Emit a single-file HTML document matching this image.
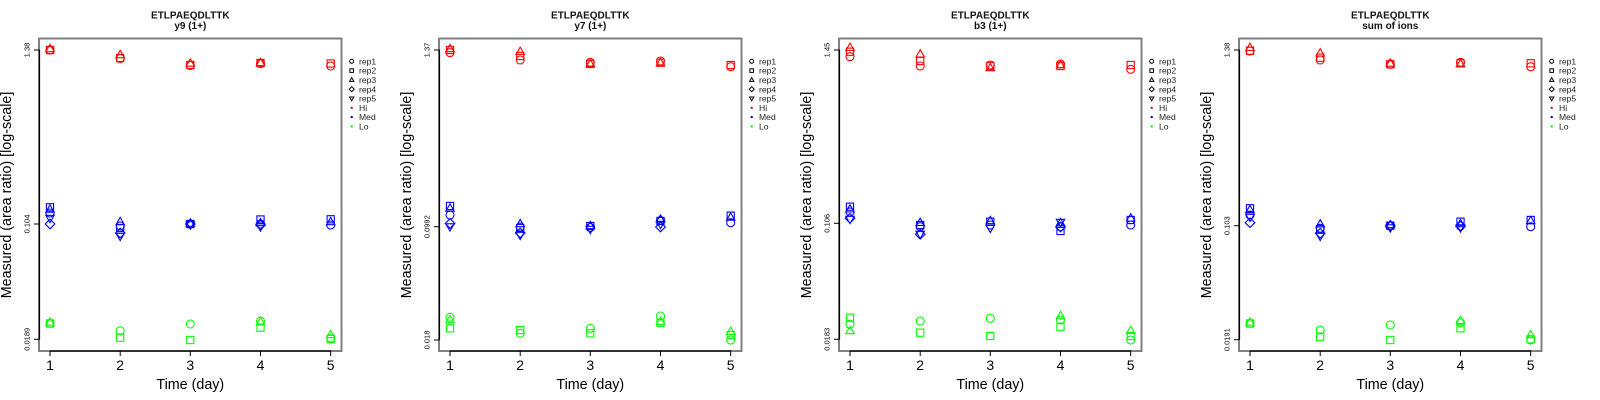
<!DOCTYPE html>
<html><head><meta charset="utf-8"><style>
html,body{margin:0;padding:0;background:#fff;}
svg{display:block;}
text{font-family:"Liberation Sans",sans-serif;}
</style></head><body>
<svg width="1600" height="400" viewBox="0 0 1600 400" xmlns="http://www.w3.org/2000/svg">
<defs>
<circle id="c" cx="0" cy="0" r="4"/>
<rect id="s" x="-3.6" y="-3.6" width="7.2" height="7.2"/>
<polygon id="t" points="0,-4.6 4.2,2.7 -4.2,2.7"/>
<polygon id="d" points="0,-4.8 4.8,0 0,4.8 -4.8,0"/>
<polygon id="v" points="0,4.6 4.2,-2.7 -4.2,-2.7"/>
<circle id="lc" cx="0" cy="0" r="2"/>
<rect id="ls" x="-1.8" y="-1.8" width="3.6" height="3.6"/>
<polygon id="lt" points="0,-2.3 2.2,1.5 -2.2,1.5"/>
<polygon id="ld" points="0,-2.5 2.5,0 0,2.5 -2.5,0"/>
<polygon id="lv" points="0,2.3 2.2,-1.5 -2.2,-1.5"/>
<g id="frame">
<rect x="39" y="38.5" width="302.5" height="312.5" fill="none" stroke="#808080" stroke-width="2"/>
<line x1="39.5" y1="50" x2="39.5" y2="339.5" stroke="#000" stroke-width="1.2"/>
<line x1="50" y1="351" x2="331" y2="351" stroke="#000" stroke-width="1.2"/>
<g stroke="#000" stroke-width="1">
<line x1="50" y1="351" x2="50" y2="356"/>
<line x1="120.2" y1="351" x2="120.2" y2="356"/>
<line x1="190.3" y1="351" x2="190.3" y2="356"/>
<line x1="260.5" y1="351" x2="260.5" y2="356"/>
<line x1="330.7" y1="351" x2="330.7" y2="356"/>
</g>
<g font-size="14" text-anchor="middle" fill="#000">
<text x="50" y="370">1</text>
<text x="120.2" y="370">2</text>
<text x="190.3" y="370">3</text>
<text x="260.5" y="370">4</text>
<text x="330.7" y="370">5</text>
</g>
<text x="190.3" y="389" font-size="14.3" text-anchor="middle" fill="#000">Time (day)</text>
<text x="11" y="195" font-size="14.3" text-anchor="middle" fill="#000" transform="rotate(-90 11 195)">Measured (area ratio) [log-scale]</text>
<g fill="none" stroke="#000" stroke-width="1">
<use href="#lc" x="351.7" y="61.3"/>
<use href="#ls" x="351.7" y="70.6"/>
<use href="#lt" x="351.7" y="79.9"/>
<use href="#ld" x="351.7" y="89.2"/>
<use href="#lv" x="351.7" y="98.5"/>
</g>
<circle cx="351.7" cy="107.8" r="1.2" fill="#f00"/>
<circle cx="351.7" cy="117.1" r="1.2" fill="#00f"/>
<circle cx="351.7" cy="126.4" r="1.2" fill="#0f0"/>
<g font-size="8.6" fill="#222">
<text x="359" y="64.4">rep1</text>
<text x="359" y="73.7">rep2</text>
<text x="359" y="83">rep3</text>
<text x="359" y="92.3">rep4</text>
<text x="359" y="101.6">rep5</text>
<text x="359" y="110.9">Hi</text>
<text x="359" y="120.2">Med</text>
<text x="359" y="129.5">Lo</text>
</g>
</g>
</defs>

<!-- Panel 1 -->
<g transform="translate(0,0)">
<use href="#frame"/>
<text x="190.3" y="18.3" font-size="10" font-weight="bold" text-anchor="middle" fill="#111">ETLPAEQDLTTK</text>
<text x="190.3" y="28.8" font-size="10" font-weight="bold" text-anchor="middle" fill="#111">y9 (1+)</text>
<g stroke="#000" stroke-width="1">
<line x1="34" y1="50" x2="39.5" y2="50"/><line x1="34" y1="224" x2="39.5" y2="224"/><line x1="34" y1="339.3" x2="39.5" y2="339.3"/>
</g>
<g font-size="7.5" text-anchor="middle" fill="#000">
<text x="29.5" y="50" transform="rotate(-90 29.5 50)">1.38</text>
<text x="29.5" y="224" transform="rotate(-90 29.5 224)">0.104</text>
<text x="29.5" y="339.3" transform="rotate(-90 29.5 339.3)">0.0189</text>
</g>
<g fill="none" stroke="#f00" stroke-width="1.1">
<use href="#c" x="50" y="50"/><use href="#s" x="50" y="50"/><use href="#t" x="50" y="49"/>
<use href="#c" x="120.2" y="58.5"/><use href="#s" x="120.2" y="58"/><use href="#t" x="120.2" y="55"/>
<use href="#c" x="190.3" y="65.5"/><use href="#s" x="190.3" y="65"/><use href="#t" x="190.3" y="63.5"/>
<use href="#c" x="260.5" y="63.5"/><use href="#s" x="260.5" y="63"/><use href="#t" x="260.5" y="63"/>
<use href="#c" x="330.7" y="66"/><use href="#s" x="330.7" y="63.5"/>
</g>
<g fill="none" stroke="#00f" stroke-width="1.1">
<use href="#s" x="50" y="207.3"/><use href="#t" x="50" y="209.5"/><use href="#c" x="50" y="213"/><use href="#v" x="50" y="218"/><use href="#d" x="50" y="224"/>
<use href="#t" x="120.2" y="222"/><use href="#c" x="120.2" y="226"/><use href="#s" x="120.2" y="228"/><use href="#d" x="120.2" y="233"/><use href="#v" x="120.2" y="236"/>
<use href="#c" x="190.3" y="224"/><use href="#s" x="190.3" y="224"/><use href="#t" x="190.3" y="223.5"/><use href="#d" x="190.3" y="224"/><use href="#v" x="190.3" y="224.5"/>
<use href="#s" x="260.5" y="219.5"/><use href="#c" x="260.5" y="224"/><use href="#t" x="260.5" y="223"/><use href="#d" x="260.5" y="225"/><use href="#v" x="260.5" y="226.5"/>
<use href="#s" x="330.7" y="219.3"/><use href="#t" x="330.7" y="222"/><use href="#c" x="330.7" y="225"/>
</g>
<g fill="none" stroke="#0f0" stroke-width="1.1">
<use href="#c" x="50" y="323.3"/><use href="#s" x="50" y="323.5"/><use href="#t" x="50" y="322.5"/>
<use href="#c" x="120.2" y="330.7"/><use href="#s" x="120.2" y="337.7"/>
<use href="#c" x="190.3" y="324"/><use href="#s" x="190.3" y="340"/>
<use href="#c" x="260.5" y="321"/><use href="#t" x="260.5" y="322"/><use href="#s" x="260.5" y="327.7"/>
<use href="#t" x="330.7" y="335"/><use href="#s" x="330.7" y="339"/><use href="#c" x="330.7" y="338"/>
</g>
</g>

<!-- Panel 2 -->
<g transform="translate(400,0)">
<use href="#frame"/>
<text x="190.3" y="18.3" font-size="10" font-weight="bold" text-anchor="middle" fill="#111">ETLPAEQDLTTK</text>
<text x="190.3" y="28.8" font-size="10" font-weight="bold" text-anchor="middle" fill="#111">y7 (1+)</text>
<g stroke="#000" stroke-width="1">
<line x1="34" y1="50" x2="39.5" y2="50"/><line x1="34" y1="226.7" x2="39.5" y2="226.7"/><line x1="34" y1="340" x2="39.5" y2="340"/>
</g>
<g font-size="7.5" text-anchor="middle" fill="#000">
<text x="29.5" y="50" transform="rotate(-90 29.5 50)">1.37</text>
<text x="29.5" y="226.7" transform="rotate(-90 29.5 226.7)">0.0992</text>
<text x="29.5" y="340" transform="rotate(-90 29.5 340)">0.018</text>
</g>
<g fill="none" stroke="#f00" stroke-width="1.1">
<use href="#s" x="50" y="50"/><use href="#t" x="50" y="49"/><use href="#c" x="50" y="52.7"/>
<use href="#t" x="120.2" y="51.7"/><use href="#s" x="120.2" y="56"/><use href="#c" x="120.2" y="60"/>
<use href="#c" x="190.3" y="62.3"/><use href="#s" x="190.3" y="64"/><use href="#t" x="190.3" y="64"/>
<use href="#c" x="260.5" y="61"/><use href="#s" x="260.5" y="62.7"/><use href="#t" x="260.5" y="63"/>
<use href="#s" x="330.7" y="65"/><use href="#c" x="330.7" y="66.7"/>
</g>
<g fill="none" stroke="#00f" stroke-width="1.1">
<use href="#s" x="50" y="206"/><use href="#t" x="50" y="208.5"/><use href="#c" x="50" y="215"/><use href="#d" x="50" y="223.5"/><use href="#v" x="50" y="226.5"/>
<use href="#t" x="120.2" y="224"/><use href="#c" x="120.2" y="227"/><use href="#s" x="120.2" y="228"/><use href="#d" x="120.2" y="233"/><use href="#v" x="120.2" y="235"/>
<use href="#s" x="190.3" y="226"/><use href="#c" x="190.3" y="227.5"/><use href="#t" x="190.3" y="226"/><use href="#v" x="190.3" y="229"/>
<use href="#t" x="260.5" y="219.5"/><use href="#c" x="260.5" y="220.5"/><use href="#s" x="260.5" y="221"/><use href="#d" x="260.5" y="227"/><use href="#v" x="260.5" y="224"/>
<use href="#s" x="330.7" y="215.7"/><use href="#t" x="330.7" y="217.5"/><use href="#c" x="330.7" y="222.7"/>
</g>
<g fill="none" stroke="#0f0" stroke-width="1.1">
<use href="#c" x="50" y="317.3"/><use href="#t" x="50" y="320"/><use href="#s" x="50" y="328.3"/>
<use href="#s" x="120.2" y="330"/><use href="#c" x="120.2" y="333.3"/>
<use href="#c" x="190.3" y="328.3"/><use href="#s" x="190.3" y="333.3"/>
<use href="#c" x="260.5" y="316"/><use href="#t" x="260.5" y="321.7"/><use href="#s" x="260.5" y="322.7"/>
<use href="#t" x="330.7" y="331.7"/><use href="#s" x="330.7" y="335"/><use href="#c" x="330.7" y="340"/>
</g>
</g>

<!-- Panel 3 -->
<g transform="translate(800,0)">
<use href="#frame"/>
<text x="190.3" y="18.3" font-size="10" font-weight="bold" text-anchor="middle" fill="#111">ETLPAEQDLTTK</text>
<text x="190.3" y="28.8" font-size="10" font-weight="bold" text-anchor="middle" fill="#111">b3 (1+)</text>
<g stroke="#000" stroke-width="1">
<line x1="34" y1="50" x2="39.5" y2="50"/><line x1="34" y1="223.3" x2="39.5" y2="223.3"/><line x1="34" y1="339.3" x2="39.5" y2="339.3"/>
</g>
<g font-size="7.5" text-anchor="middle" fill="#000">
<text x="29.5" y="50" transform="rotate(-90 29.5 50)">1.45</text>
<text x="29.5" y="223.3" transform="rotate(-90 29.5 223.3)">0.106</text>
<text x="29.5" y="339.3" transform="rotate(-90 29.5 339.3)">0.0183</text>
</g>
<g fill="none" stroke="#f00" stroke-width="1.1">
<use href="#t" x="50" y="47.7"/><use href="#s" x="50" y="51.7"/><use href="#c" x="50" y="56.7"/>
<use href="#t" x="120.2" y="54.3"/><use href="#s" x="120.2" y="61"/><use href="#c" x="120.2" y="66"/>
<use href="#c" x="190.3" y="65"/><use href="#s" x="190.3" y="66"/><use href="#t" x="190.3" y="68"/>
<use href="#c" x="260.5" y="64"/><use href="#s" x="260.5" y="66"/><use href="#t" x="260.5" y="65"/>
<use href="#s" x="330.7" y="65"/><use href="#c" x="330.7" y="69.3"/>
</g>
<g fill="none" stroke="#00f" stroke-width="1.1">
<use href="#s" x="50" y="206.7"/><use href="#t" x="50" y="209.3"/><use href="#c" x="50" y="212"/><use href="#d" x="50" y="218.3"/><use href="#v" x="50" y="219"/>
<use href="#t" x="120.2" y="222.7"/><use href="#s" x="120.2" y="225"/><use href="#c" x="120.2" y="226.7"/><use href="#d" x="120.2" y="234.3"/><use href="#v" x="120.2" y="234"/>
<use href="#t" x="190.3" y="221"/><use href="#s" x="190.3" y="221.7"/><use href="#c" x="190.3" y="225"/><use href="#v" x="190.3" y="228"/>
<use href="#v" x="260.5" y="222"/><use href="#t" x="260.5" y="223"/><use href="#c" x="260.5" y="226.7"/><use href="#d" x="260.5" y="227"/><use href="#s" x="260.5" y="231"/>
<use href="#t" x="330.7" y="218.3"/><use href="#s" x="330.7" y="220"/><use href="#c" x="330.7" y="225"/>
</g>
<g fill="none" stroke="#0f0" stroke-width="1.1">
<use href="#s" x="50" y="317.7"/><use href="#c" x="50" y="324.3"/><use href="#t" x="50" y="331"/>
<use href="#c" x="120.2" y="321"/><use href="#s" x="120.2" y="332.7"/>
<use href="#c" x="190.3" y="318.3"/><use href="#s" x="190.3" y="336"/>
<use href="#t" x="260.5" y="316"/><use href="#c" x="260.5" y="320"/><use href="#s" x="260.5" y="326.7"/>
<use href="#t" x="330.7" y="330.7"/><use href="#s" x="330.7" y="336"/><use href="#c" x="330.7" y="340"/>
</g>
</g>

<!-- Panel 4 -->
<g transform="translate(1200,0)">
<use href="#frame"/>
<text x="190.3" y="18.3" font-size="10" font-weight="bold" text-anchor="middle" fill="#111">ETLPAEQDLTTK</text>
<text x="190.3" y="28.8" font-size="10" font-weight="bold" text-anchor="middle" fill="#111">sum of ions</text>
<g stroke="#000" stroke-width="1">
<line x1="34" y1="50" x2="39.5" y2="50"/><line x1="34" y1="225.7" x2="39.5" y2="225.7"/><line x1="34" y1="339.7" x2="39.5" y2="339.7"/>
</g>
<g font-size="7.5" text-anchor="middle" fill="#000">
<text x="29.5" y="50" transform="rotate(-90 29.5 50)">1.38</text>
<text x="29.5" y="225.7" transform="rotate(-90 29.5 225.7)">0.103</text>
<text x="29.5" y="339.7" transform="rotate(-90 29.5 339.7)">0.0191</text>
</g>
<g fill="none" stroke="#f00" stroke-width="1.1">
<use href="#t" x="50" y="47.7"/><use href="#s" x="50" y="50.7"/><use href="#c" x="50" y="51"/>
<use href="#t" x="120.2" y="53.3"/><use href="#s" x="120.2" y="57.7"/><use href="#c" x="120.2" y="60"/>
<use href="#c" x="190.3" y="64.3"/><use href="#s" x="190.3" y="64.3"/><use href="#t" x="190.3" y="63.5"/>
<use href="#c" x="260.5" y="62.3"/><use href="#s" x="260.5" y="63.3"/><use href="#t" x="260.5" y="64"/>
<use href="#s" x="330.7" y="63.3"/><use href="#c" x="330.7" y="66.7"/>
</g>
<g fill="none" stroke="#00f" stroke-width="1.1">
<use href="#s" x="50" y="208.3"/><use href="#t" x="50" y="210"/><use href="#c" x="50" y="215"/><use href="#v" x="50" y="217"/><use href="#d" x="50" y="222.7"/>
<use href="#t" x="120.2" y="224.3"/><use href="#c" x="120.2" y="228.3"/><use href="#s" x="120.2" y="229.3"/><use href="#d" x="120.2" y="233.3"/><use href="#v" x="120.2" y="236"/>
<use href="#c" x="190.3" y="225.7"/><use href="#s" x="190.3" y="225.7"/><use href="#t" x="190.3" y="225"/><use href="#d" x="190.3" y="226"/><use href="#v" x="190.3" y="227.5"/>
<use href="#s" x="260.5" y="221.7"/><use href="#t" x="260.5" y="224"/><use href="#c" x="260.5" y="226"/><use href="#d" x="260.5" y="226"/><use href="#v" x="260.5" y="227.5"/>
<use href="#s" x="330.7" y="220"/><use href="#t" x="330.7" y="221"/><use href="#c" x="330.7" y="226.7"/>
</g>
<g fill="none" stroke="#0f0" stroke-width="1.1">
<use href="#c" x="50" y="323.3"/><use href="#s" x="50" y="323.5"/><use href="#t" x="50" y="322.5"/>
<use href="#c" x="120.2" y="330"/><use href="#s" x="120.2" y="336.7"/>
<use href="#c" x="190.3" y="325"/><use href="#s" x="190.3" y="340"/>
<use href="#t" x="260.5" y="320.7"/><use href="#c" x="260.5" y="322.7"/><use href="#s" x="260.5" y="328.3"/>
<use href="#t" x="330.7" y="335"/><use href="#s" x="330.7" y="339.3"/><use href="#c" x="330.7" y="340"/>
</g>
</g>
</svg>
</body></html>
